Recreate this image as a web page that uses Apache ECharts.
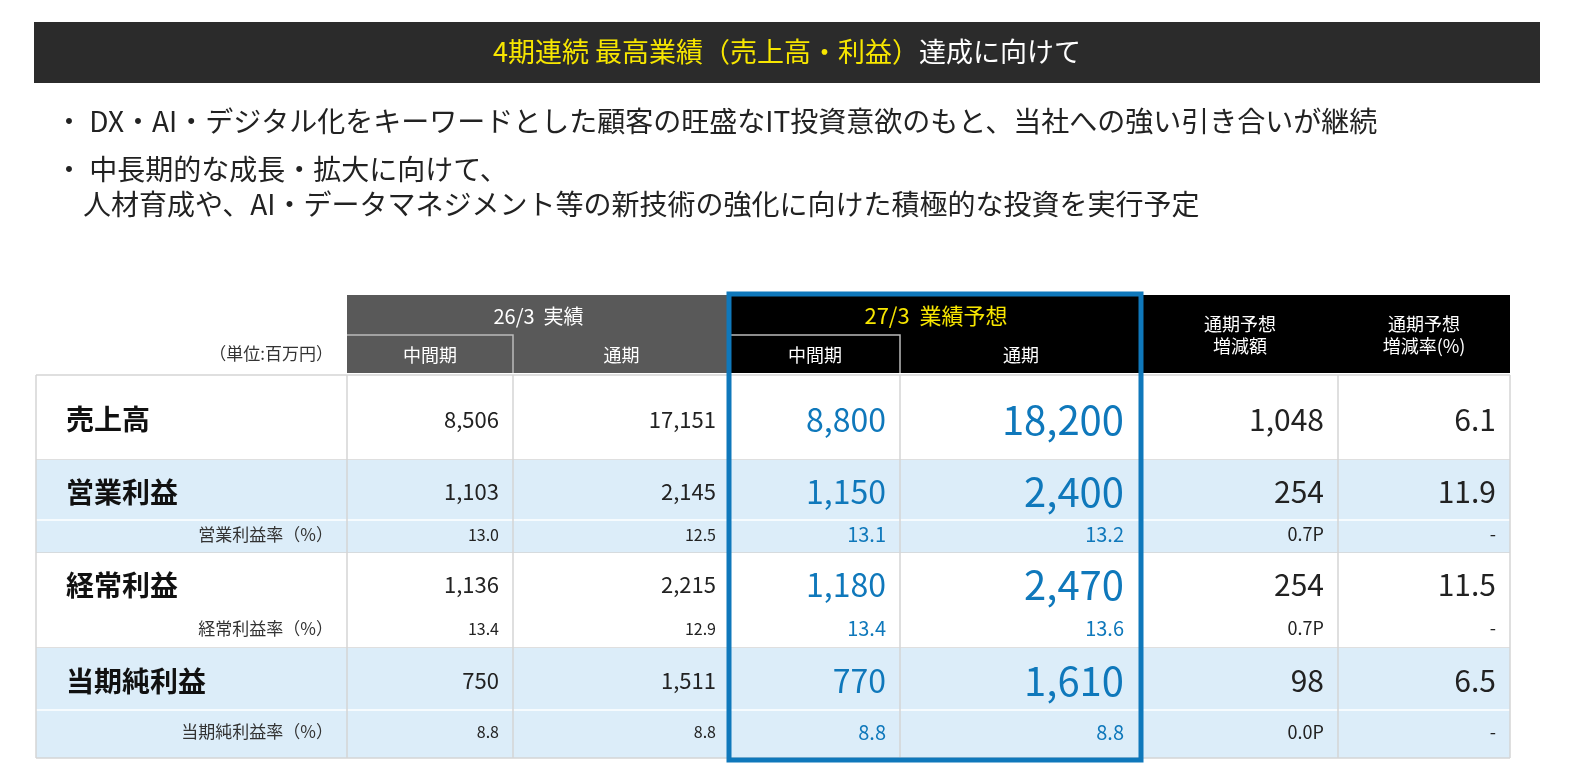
<!doctype html>
<html lang="ja">
<head>
<meta charset="utf-8">
<title>4期連続 最高業績</title>
<script src="https://cdn.jsdelivr.net/npm/echarts@6.0.0/dist/echarts.min.js"></script>
<style>
  html, body { margin: 0; width: 100%; height: 100%; background: #fff; }
  #main { width: 1570px; height: 766px; }
</style>
</head>
<body>
<div id="main"></div>
<script>
  // データ
  var titleYellow = "4期連続 最高業績（売上高・利益）";
  var titleWhite = "達成に向けて";
  var bullets = [
    "・ DX・AI・デジタル化をキーワードとした顧客の旺盛なIT投資意欲のもと、当社への強い引き合いが継続",
    "・ 中長期的な成長・拡大に向けて、",
    "　人材育成や、AI・データマネジメント等の新技術の強化に向けた積極的な投資を実行予定"
  ];
  var groupHeaders = ["26/3  実績", "27/3  業績予想"];
  var subHeaders = ["中間期", "通期", "中間期", "通期", "通期予想\n増減額", "通期予想\n増減率(%)"];
  var unitLabel = "（単位:百万円）";
  var rowLabels = ["売上高", "営業利益", "経常利益", "当期純利益"];
  var rateLabels = [null, "営業利益率（%）", "経常利益率（%）", "当期純利益率（%）"];
  var mainValues = [
    ["8,506", "17,151", "8,800", "18,200", "1,048", "6.1"],
    ["1,103", "2,145", "1,150", "2,400", "254", "11.9"],
    ["1,136", "2,215", "1,180", "2,470", "254", "11.5"],
    ["750", "1,511", "770", "1,610", "98", "6.5"]
  ];
  var rateValues = [
    null,
    ["13.0", "12.5", "13.1", "13.2", "0.7P", "-"],
    ["13.4", "12.9", "13.4", "13.6", "0.7P", "-"],
    ["8.8", "8.8", "8.8", "8.8", "0.0P", "-"]
  ];

  // レイアウト
  var colX = [36, 347, 513, 730, 900, 1142, 1338, 1510];
  var rowTop = [375, 460, 553, 648];
  var rowMainH = [85, 60, 60, 62];
  var rowSubH = [0, 33, 35, 48];
  var bandFill = [null, '#dcedf9', null, '#dcedf9'];
  var blue = '#0f78bb';
  var font = '"Noto Sans CJK JP", "Noto Sans", sans-serif';
  var mainSize = [22, 22, 32, 40, 30, 30];
  var subSize = [16, 16, 20, 20, 18, 18];

  var g = [];
  function rect(x, y, w, h, fill, stroke, lw) {
    g.push({ type: 'rect', shape: { x: x, y: y, width: w, height: h },
      style: { fill: fill || 'none', stroke: stroke || null, lineWidth: lw || 0 } });
  }
  function text(x, y, s, size, color, align, weight, z) {
    g.push({ type: 'text', x: x, y: y, z: z || 5, style: { text: s, fontSize: size, fill: color,
      fontFamily: font, align: align || 'left', verticalAlign: 'middle', fontWeight: weight || 'normal', lineHeight: size * 1.25 } });
  }

  // タイトル
  rect(34, 22, 1506, 61, '#2b2b2b');
  g.push({ type: 'text', x: 787, y: 52, style: {
    text: '{y|' + titleYellow + '}{w|' + titleWhite + '}', align: 'center', verticalAlign: 'middle',
    rich: { y: { fill: '#f7e600', fontSize: 27, fontFamily: font }, w: { fill: '#fff', fontSize: 27, fontFamily: font } } } });
  var bulletY = [121, 169, 204];
  bullets.forEach(function (b, i) { text(55, bulletY[i], b, 28, '#222'); });

  // ヘッダー
  rect(colX[1], 295, colX[3] - colX[1], 78, '#595959');
  rect(colX[3], 295, colX[7] - colX[3], 78, '#000');
  text((colX[1] + colX[3]) / 2, 316, groupHeaders[0], 20, '#fff', 'center');
  text((colX[3] + colX[5]) / 2, 316, groupHeaders[1], 22, '#f7e600', 'center');
  g.push({ type: 'polyline', shape: { points: [[colX[1], 335], [colX[2], 335], [colX[2], 373]] }, style: { stroke: '#bbb', lineWidth: 1.5 } });
  g.push({ type: 'polyline', shape: { points: [[colX[3], 335], [colX[4], 335], [colX[4], 373]] }, style: { stroke: '#bbb', lineWidth: 1.5 } });
  subHeaders.forEach(function (s, i) {
    var cx = (colX[i + 1] + colX[i + 2]) / 2;
    text(cx, i < 4 ? 355 : 335, s, 18, '#fff', 'center');
  });
  text(colX[1] - 14, 354, unitLabel, 17, '#333', 'right');

  // 本体
  rowLabels.forEach(function (lab, r) {
    var top = rowTop[r], h = rowMainH[r] + rowSubH[r];
    rect(colX[0], top, colX[7] - colX[0], h, bandFill[r] || '#fff');
    text(66, top + rowMainH[r] / 2 + 2, lab, 28, '#111', 'left', 'bold');
    mainValues[r].forEach(function (v, c) {
      var col = (c === 2 || c === 3) ? blue : '#222';
      text(colX[c + 2] - (c === 3 ? 18 : 14), top + rowMainH[r] / 2 + 2, v, mainSize[c], col, 'right');
    });
    if (rateLabels[r]) {
      var sy = top + rowMainH[r] + rowSubH[r] / 2 - 2;
      g.push({ type: 'line', shape: { x1: colX[0], y1: top + rowMainH[r], x2: colX[7], y2: top + rowMainH[r] }, style: { stroke: '#fff', lineWidth: 1.5 } });
      text(colX[1] - 14, sy, rateLabels[r], 17, '#333', 'right');
      rateValues[r].forEach(function (v, c) {
        var col = (c === 2 || c === 3) ? blue : '#222';
        text(colX[c + 2] - (c === 3 ? 18 : 14), sy, v, subSize[c], col, 'right');
      });
    }
    g.push({ type: 'line', shape: { x1: colX[0], y1: top + h, x2: colX[7], y2: top + h }, style: { stroke: '#d4d4d4', lineWidth: 1.5 } });
  });
  // 罫線
  g.push({ type: 'line', shape: { x1: colX[0], y1: rowTop[0], x2: colX[7], y2: rowTop[0] }, style: { stroke: '#d4d4d4', lineWidth: 1.5 } });
  var bottom = rowTop[3] + rowMainH[3] + rowSubH[3];
  colX.forEach(function (x) {
    g.push({ type: 'line', shape: { x1: x, y1: rowTop[0], x2: x, y2: bottom }, style: { stroke: '#d4d4d4', lineWidth: 1.5 } });
  });
  // 予想枠
  g.push({ type: 'rect', z: 10, shape: { x: 729, y: 294, width: 412, height: 466 }, style: { fill: 'none', stroke: blue, lineWidth: 5 } });

  var chart = echarts.init(document.getElementById('main'));
  chart.setOption({ animation: false, graphic: { elements: g } });
</script>
</body>
</html>
